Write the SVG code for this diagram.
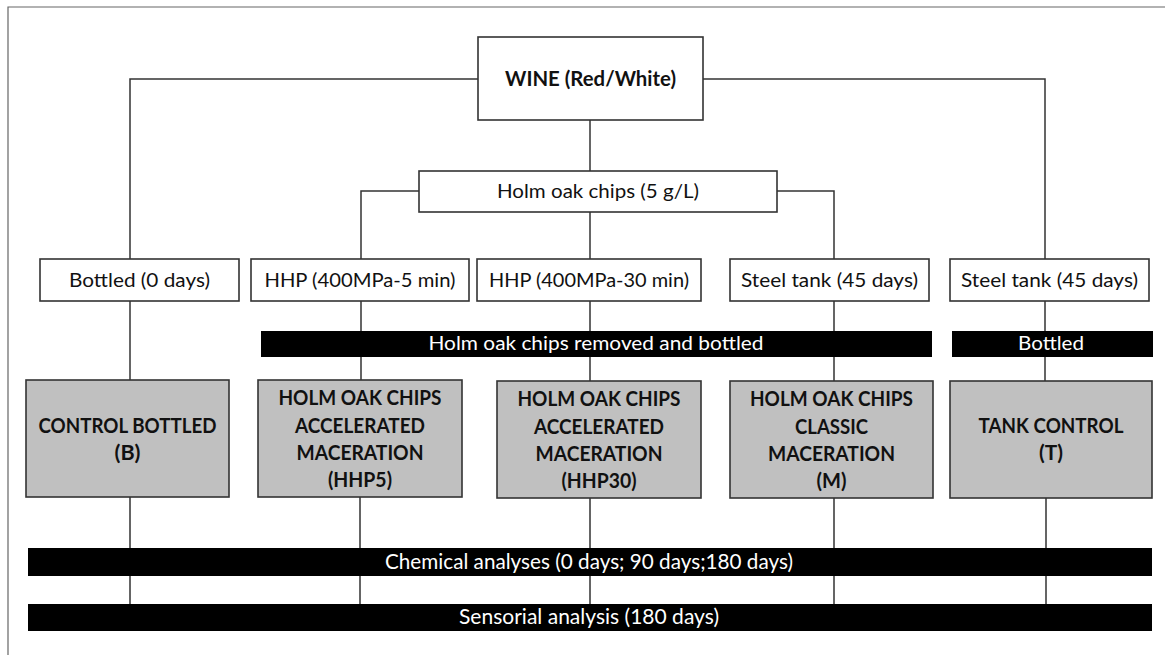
<svg xmlns="http://www.w3.org/2000/svg" width="1165" height="655" viewBox="0 0 1165 655">
<style>
.frame{stroke:#666;stroke-width:1.2;fill:none}
.box{fill:#fff;stroke:#333;stroke-width:1.6}
.gbox{fill:#c0c0c0;stroke:#333;stroke-width:1.6}
.bar{fill:#000}
.ln{stroke:#333;stroke-width:1.5;fill:none}
.t{font-family:Lato,"Liberation Sans",sans-serif;font-size:18.5px;fill:#111;text-anchor:middle}
.b{font-family:Lato,"Liberation Sans",sans-serif;font-size:21px;font-weight:bold;fill:#111;text-anchor:middle}
.w{font-family:Lato,"Liberation Sans",sans-serif;font-size:18.5px;fill:#fff;text-anchor:middle}
.wc{font-family:Lato,"Liberation Sans",sans-serif;font-size:20.5px;fill:#fff;text-anchor:middle}
</style>
<rect width="1165" height="655" fill="#fff"/>
<path class="frame" d="M8 655 V7 H1165"/>
<g id="connectors">
<path class="ln" d="M478 79 H130 V259"/>
<path class="ln" d="M703 79 H1045 V259"/>
<path class="ln" d="M590 120 V171"/>
<path class="ln" d="M419 191 H361 V259"/>
<path class="ln" d="M777 191 H834 V259"/>
<path class="ln" d="M590 212 V259"/>
<path class="ln" d="M130 301 V380"/>
<path class="ln" d="M361 301 V331 M361 357 V380"/>
<path class="ln" d="M590 301 V331 M590 357 V381"/>
<path class="ln" d="M834 301 V331 M834 357 V381"/>
<path class="ln" d="M1045 301 V331 M1045 357 V381"/>
<path class="ln" d="M130 497 V548 M130 576 V604"/>
<path class="ln" d="M360 497 V548 M360 576 V604"/>
<path class="ln" d="M590 498 V548 M590 576 V604"/>
<path class="ln" d="M834 498 V548 M834 576 V604"/>
<path class="ln" d="M1046 498 V548 M1046 576 V604"/>
</g>
<g id="wine"><rect class="box" x="478" y="37" width="225" height="83"/><text class="b" x="590.5" y="86" font-size="19" textLength="171" lengthAdjust="spacingAndGlyphs">WINE (Red/White)</text></g>
<g id="chips"><rect class="box" x="419" y="171" width="358" height="41"/><text class="t" x="598" y="198" textLength="202" lengthAdjust="spacingAndGlyphs">Holm oak chips (5 g/L)</text></g>
<g id="bottled0"><rect class="box" x="40" y="259" width="199" height="42"/><text class="t" x="139.5" y="287" textLength="141" lengthAdjust="spacingAndGlyphs">Bottled (0 days)</text></g>
<g id="hhp5"><rect class="box" x="251" y="259" width="218" height="42"/><text class="t" x="360" y="287" textLength="191" lengthAdjust="spacingAndGlyphs">HHP (400MPa-5 min)</text></g>
<g id="hhp30"><rect class="box" x="477" y="259" width="224" height="42"/><text class="t" x="589" y="287" textLength="200" lengthAdjust="spacingAndGlyphs">HHP (400MPa-30 min)</text></g>
<g id="steel1"><rect class="box" x="730" y="259" width="199" height="42"/><text class="t" x="829.5" y="287" textLength="177" lengthAdjust="spacingAndGlyphs">Steel tank (45 days)</text></g>
<g id="steel2"><rect class="box" x="950" y="259" width="199" height="42"/><text class="t" x="1049.5" y="287" textLength="177" lengthAdjust="spacingAndGlyphs">Steel tank (45 days)</text></g>
<g id="removed"><rect class="bar" x="261" y="331" width="671" height="26"/><text class="w" x="596" y="350" textLength="335" lengthAdjust="spacingAndGlyphs">Holm oak chips removed and bottled</text></g>
<g id="bottledbar"><rect class="bar" x="952" y="331" width="201" height="26"/><text class="w" x="1051" y="350" textLength="66" lengthAdjust="spacingAndGlyphs">Bottled</text></g>
<g id="ctrlB"><rect class="gbox" x="26" y="380" width="203" height="117"/><text class="b" x="127.5" y="433" textLength="178" lengthAdjust="spacingAndGlyphs">CONTROL BOTTLED</text><text class="b" x="127.5" y="460" textLength="26" lengthAdjust="spacingAndGlyphs">(B)</text></g>
<g id="hhp5box"><rect class="gbox" x="258" y="380" width="204" height="117"/><text class="b" x="360" y="405" textLength="163" lengthAdjust="spacingAndGlyphs">HOLM OAK CHIPS</text><text class="b" x="360" y="433" textLength="130" lengthAdjust="spacingAndGlyphs">ACCELERATED</text><text class="b" x="360" y="460" textLength="127" lengthAdjust="spacingAndGlyphs">MACERATION</text><text class="b" x="360" y="487" textLength="64" lengthAdjust="spacingAndGlyphs">(HHP5)</text></g>
<g id="hhp30box"><rect class="gbox" x="497" y="381" width="204" height="117"/><text class="b" x="599" y="406" textLength="163" lengthAdjust="spacingAndGlyphs">HOLM OAK CHIPS</text><text class="b" x="599" y="434" textLength="130" lengthAdjust="spacingAndGlyphs">ACCELERATED</text><text class="b" x="599" y="461" textLength="127" lengthAdjust="spacingAndGlyphs">MACERATION</text><text class="b" x="599" y="488" textLength="75" lengthAdjust="spacingAndGlyphs">(HHP30)</text></g>
<g id="mbox"><rect class="gbox" x="730" y="381" width="203" height="117"/><text class="b" x="831.5" y="406" textLength="163" lengthAdjust="spacingAndGlyphs">HOLM OAK CHIPS</text><text class="b" x="831.5" y="434" textLength="73" lengthAdjust="spacingAndGlyphs">CLASSIC</text><text class="b" x="831.5" y="461" textLength="127" lengthAdjust="spacingAndGlyphs">MACERATION</text><text class="b" x="831.5" y="488" textLength="30" lengthAdjust="spacingAndGlyphs">(M)</text></g>
<g id="tbox"><rect class="gbox" x="950" y="381" width="202" height="117"/><text class="b" x="1051" y="433" textLength="145" lengthAdjust="spacingAndGlyphs">TANK CONTROL</text><text class="b" x="1051" y="460" textLength="24" lengthAdjust="spacingAndGlyphs">(T)</text></g>
<g id="chemical"><rect class="bar" x="28" y="548" width="1124" height="28"/><text class="wc" x="589" y="569" textLength="408" lengthAdjust="spacingAndGlyphs">Chemical analyses (0 days; 90 days;180 days)</text></g>
<g id="sensorial"><rect class="bar" x="28" y="604" width="1124" height="27"/><text class="wc" x="589" y="624" textLength="260" lengthAdjust="spacingAndGlyphs">Sensorial analysis (180 days)</text></g>
</svg>
